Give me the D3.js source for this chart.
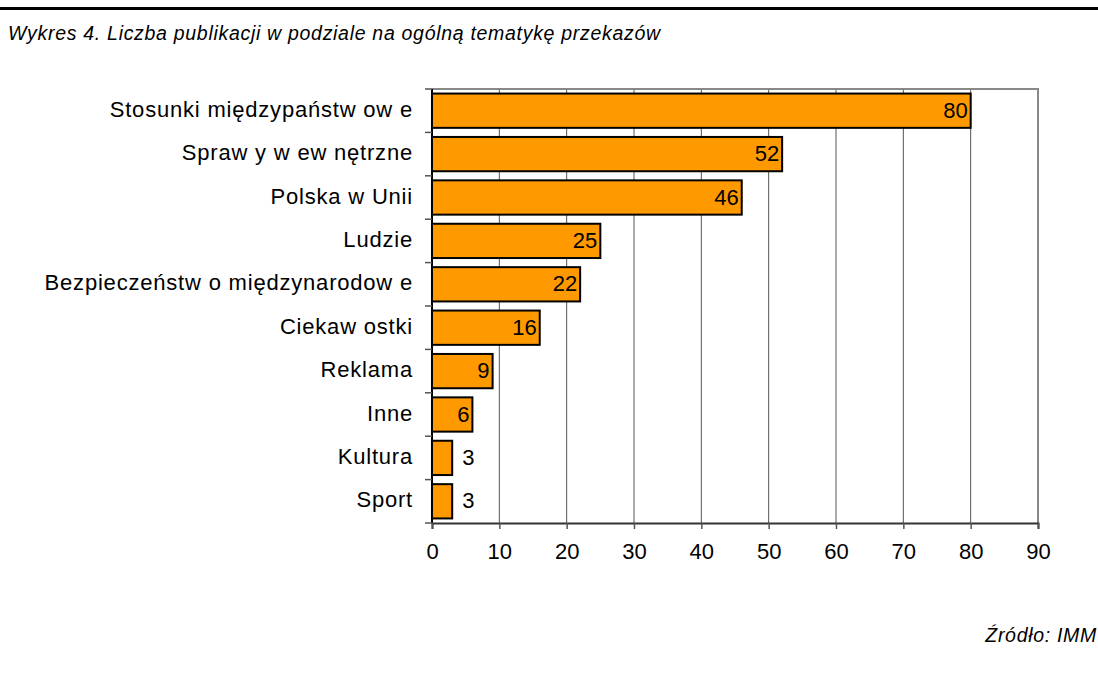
<!DOCTYPE html>
<html>
<head>
<meta charset="utf-8" />
<script src="https://cdn.jsdelivr.net/npm/d3@7"></script>
<style>
  body { margin: 0; background: #fff; }
  text { font-family: "Liberation Sans", Arial, sans-serif; }
</style>
</head>
<body>
<svg id="chart" width="1098" height="678"></svg>
<script>
// chart data
var categories = ['Stosunki międzypaństw ow e', 'Spraw y w ew nętrzne', 'Polska w  Unii', 'Ludzie',
                  'Bezpieczeństw o międzynarodow e', 'Ciekaw ostki', 'Reklama', 'Inne', 'Kultura', 'Sport'];
var values = [80, 52, 46, 25, 22, 16, 9, 6, 3, 3];
var xTicks = [0, 10, 20, 30, 40, 50, 60, 70, 80, 90];

var svg = d3.select('#chart');
var W = 1098, H = 678;
var plotL = 432, plotR = 1038, plotT = 89, plotB = 523;

// header rule and title
svg.append('rect').attr('x', 0).attr('y', 7).attr('width', W).attr('height', 3).attr('fill', '#000');
svg.append('text').attr('x', 8).attr('y', 40).style('font-style', 'italic').style('font-size', '19.5px')
    .style('letter-spacing', '0.7px')
    .text('Wykres 4. Liczba publikacji w podziale na ogólną tematykę przekazów');

var x = d3.scaleLinear().domain([0, 90]).range([plotL, plotR]);
var y = d3.scaleBand().domain(categories).range([plotT, plotB]).paddingInner(0.21).paddingOuter(0.105);

// gridlines
svg.append('g').selectAll('line').data(xTicks.slice(1, -1)).enter().append('line')
    .attr('x1', function(d) { return x(d); }).attr('x2', function(d) { return x(d); })
    .attr('y1', plotT).attr('y2', plotB).attr('stroke', '#555').attr('stroke-width', 1);

// plot frame (top and right)
svg.append('path').attr('d', 'M' + plotL + ',' + plotT + 'H' + plotR + 'V' + plotB)
    .attr('fill', 'none').attr('stroke', '#888').attr('stroke-width', 2);

// bars
svg.append('g').selectAll('rect').data(values).enter().append('rect')
    .attr('x', x(0))
    .attr('y', function(d, i) { return y(categories[i]); })
    .attr('width', function(d) { return x(d) - x(0); })
    .attr('height', y.bandwidth())
    .attr('fill', '#FF9900').attr('stroke', '#000').attr('stroke-width', 2);

// value labels
svg.append('g').selectAll('text').data(values).enter().append('text')
    .attr('x', function(d) { return d < 5 ? x(d) + 10 : x(d) - 3; })
    .attr('y', function(d, i) { return y(categories[i]) + y.bandwidth() / 2 + 7; })
    .attr('text-anchor', function(d) { return d < 5 ? 'start' : 'end'; })
    .style('font-size', '22px')
    .text(function(d) { return d; });

// y axis
var yAxis = svg.append('g');
yAxis.append('line').attr('x1', plotL).attr('x2', plotL).attr('y1', plotT).attr('y2', plotB)
    .attr('stroke', '#000').attr('stroke-width', 2);
yAxis.selectAll('.tick').data(d3.range(categories.length + 1)).enter().append('line')
    .attr('x1', plotL - 7).attr('x2', plotL)
    .attr('y1', function(i) { return plotT + i * y.step(); })
    .attr('y2', function(i) { return plotT + i * y.step(); })
    .attr('stroke', '#555').attr('stroke-width', 1.5);
yAxis.selectAll('text').data(categories).enter().append('text')
    .attr('x', 413)
    .attr('y', function(d) { return y(d) + y.bandwidth() / 2 + 6; })
    .attr('text-anchor', 'end').style('font-size', '22px').style('letter-spacing', '0.8px')
    .text(function(d) { return d; });

// x axis
var xAxis = d3.axisBottom(x).tickValues(xTicks).tickSize(6).tickPadding(14);
var gx = svg.append('g').attr('transform', 'translate(0,' + plotB + ')').call(xAxis);
gx.select('.domain').attr('stroke', '#333').attr('stroke-width', 2);
gx.selectAll('.tick line').attr('stroke', '#555').attr('stroke-width', 1.5);
gx.selectAll('.tick text').style('font-size', '22px').style('font-family', '"Liberation Sans", Arial, sans-serif').attr('fill', '#000');

// source
svg.append('text').attr('x', 1097).attr('y', 642).attr('text-anchor', 'end')
    .style('font-style', 'italic').style('font-size', '19.5px').style('letter-spacing', '0.7px')
    .text('Źródło: IMM');
</script>
</body>
</html>
